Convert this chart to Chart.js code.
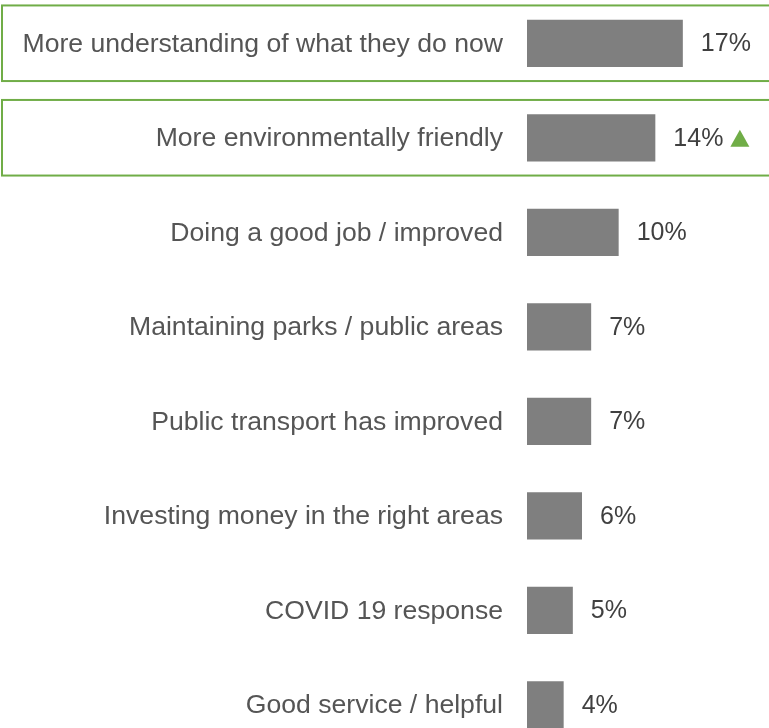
<!DOCTYPE html>
<html>
<head>
<meta charset="utf-8">
<script src="https://cdn.jsdelivr.net/npm/chart.js@4"></script>
<style>
  html, body { margin: 0; padding: 0; background: #fff; overflow: hidden; }
  #wrap { position: relative; width: 769px; height: 728px; overflow: hidden; }
  #chart { position: absolute; left: 0; top: -4px; }
</style>
</head>
<body>
<div id="wrap">
  <canvas id="chart" width="769" height="756"></canvas>
</div>
<script>
// categories and percentages
const categories = [
  'More understanding of what they do now',
  'More environmentally friendly',
  'Doing a good job / improved',
  'Maintaining parks / public areas',
  'Public transport has improved',
  'Investing money in the right areas',
  'COVID 19 response',
  'Good service / helpful'
];
const values = [17, 14, 10, 7, 7, 6, 5, 4];
const valueLabels = ['17%', '14%', '10%', '7%', '7%', '6%', '5%', '4%'];
// rows marked with a rise arrow
const risen = [false, true, false, false, false, false, false, false];
// rows drawn inside a green frame
const framed = [true, true, false, false, false, false, false, false];

const labelColor = '#555555';
const valueColor = '#404040';
const barColor = '#7f7f7f';
const green = '#70ad47';
const fontFamily = '"Liberation Sans", Arial, sans-serif';

// category names right-aligned in front of the bars
const categoryLabelPlugin = {
  id: 'categoryLabels',
  afterDatasetsDraw(chart) {
    const ctx = chart.ctx;
    const yScale = chart.scales.y;
    ctx.save();
    ctx.font = '26.6px ' + fontFamily;
    ctx.fillStyle = labelColor;
    ctx.textBaseline = 'middle';
    ctx.textAlign = 'right';
    categories.forEach((name, i) => {
      ctx.fillText(name, chart.chartArea.left - 24, yScale.getPixelForValue(i) + 1);
    });
    ctx.restore();
  }
};

// value text + arrow at the end of each bar
const valueLabelPlugin = {
  id: 'valueLabels',
  afterDatasetsDraw(chart) {
    const ctx = chart.ctx;
    const meta = chart.getDatasetMeta(0);
    ctx.save();
    ctx.font = '25px ' + fontFamily;
    ctx.textBaseline = 'middle';
    ctx.textAlign = 'left';
    meta.data.forEach((bar, i) => {
      const x = bar.x + 18;
      ctx.fillStyle = valueColor;
      ctx.fillText(valueLabels[i], x, bar.y + 1);
      if (risen[i]) {
        const w = ctx.measureText(valueLabels[i]).width;
        const ax = x + w + 7;
        ctx.fillStyle = green;
        ctx.beginPath();
        ctx.moveTo(ax, bar.y + 9);
        ctx.lineTo(ax + 19, bar.y + 9);
        ctx.lineTo(ax + 9.5, bar.y - 8);
        ctx.closePath();
        ctx.fill();
      }
    });
    ctx.restore();
  }
};

// green frames around highlighted rows
const framePlugin = {
  id: 'rowFrames',
  beforeDatasetsDraw(chart) {
    const ctx = chart.ctx;
    const yScale = chart.scales.y;
    const band = yScale.getPixelForValue(1) - yScale.getPixelForValue(0);
    ctx.save();
    ctx.strokeStyle = green;
    ctx.lineWidth = 2;
    framed.forEach((on, i) => {
      if (!on) return;
      const cy = yScale.getPixelForValue(i);
      ctx.strokeRect(2, cy - band * 0.4, chart.width + 10, band * 0.8);
    });
    ctx.restore();
  }
};

new Chart(document.getElementById('chart'), {
  type: 'bar',
  data: {
    labels: categories,
    datasets: [{
      data: values,
      backgroundColor: barColor,
      borderWidth: 0,
      barPercentage: 0.5,
      categoryPercentage: 1
    }]
  },
  options: {
    indexAxis: 'y',
    responsive: false,
    animation: false,
    devicePixelRatio: 1,
    layout: { padding: { left: 527, right: 0, top: 0, bottom: 0 } },
    plugins: {
      legend: { display: false },
      tooltip: { enabled: false }
    },
    scales: {
      x: { display: false, min: 0, max: 26.4 },
      y: { display: false }
    }
  },
  plugins: [framePlugin, categoryLabelPlugin, valueLabelPlugin]
});
</script>
</body>
</html>
